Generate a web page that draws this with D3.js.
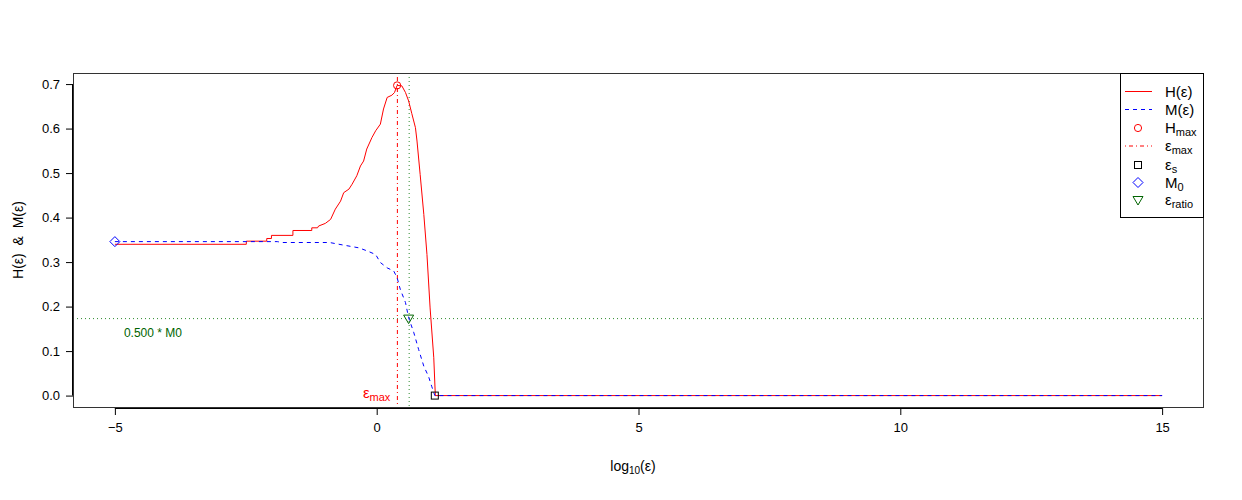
<!DOCTYPE html>
<html><head><meta charset="utf-8">
<script src="https://cdn.jsdelivr.net/npm/d3@7"></script>
<style>body{margin:0;background:#fff}svg{display:block;font-family:"Liberation Sans",Arial,sans-serif}</style>
</head><body><svg id="c" width="1242" height="500"></svg>
<script>
// ---- data (x = log10(eps)) ----
const hX = [-5.0,-2.49,-2.49,-2.10,-2.10,-2.01,-2.01,-1.60,-1.60,-1.24,-1.24,-1.13,-1.11,-0.98,-0.88,-0.79,-0.69,-0.63,-0.53,-0.47,-0.38,-0.31,-0.25,-0.19,-0.09,-0.02,0.07,0.13,0.20,0.29,0.34,0.39,0.48,0.55,0.61,0.67,0.74,0.77,0.83,0.90,0.96,1.02,1.09,1.12,15.0];
const hY = [0.340,0.340,0.347,0.347,0.353,0.353,0.360,0.360,0.371,0.371,0.377,0.377,0.381,0.387,0.396,0.419,0.437,0.456,0.464,0.475,0.494,0.516,0.527,0.554,0.580,0.595,0.610,0.644,0.670,0.675,0.681,0.697,0.696,0.681,0.662,0.634,0.602,0.572,0.497,0.407,0.317,0.197,0.085,0.000,0.000];
const mX = [-5.0,-1.90,-1.80,-0.90,-0.72,-0.34,-0.18,-0.02,0.07,0.20,0.325,0.39,0.45,0.55,0.61,0.71,0.80,0.90,0.99,1.05,1.11,15.0];
const mY = [0.346,0.346,0.344,0.344,0.340,0.332,0.325,0.317,0.299,0.287,0.280,0.265,0.239,0.209,0.175,0.141,0.104,0.066,0.043,0.021,0.000,0.000];
const hmax = {x:0.39, y:0.697};
const epsMax = 0.395;
const epsS = {x:1.11, y:0};
const M0 = {x:-5, y:0.346};
const ratio = 0.5;
const epsRatio = {x:0.61, y:0.173};
const epsRatioLine = 0.62;
const xTicks = [-5,0,5,10,15];
const yTicks = [0,0.1,0.2,0.3,0.4,0.5,0.6,0.7];
const legendLabels = [["H","(ε)",""],["M","(ε)",""],["H","","max"],["ε","","max"],["ε","","s"],["M","","0"],["ε","","ratio"]];

// ---- layout ----
const svg = d3.select("#c");
const L=73,R=1204,T=73,B=408;
const x = d3.scaleLinear().domain([-5.8,15.8]).range([L,R]);
const y = d3.scaleLinear().domain([-0.02788,0.72488]).range([B,T]);
const RED="#FF0000", BLUE="#0000FF", GREEN="#006400", LGREEN="#2E8B2E";

const g = svg.append("g");
svg.append("clipPath").attr("id","clip").append("rect").attr("x",L).attr("y",T).attr("width",R-L).attr("height",B-T);
const pg = g.append("g").attr("clip-path","url(#clip)");

// reference lines
pg.append("line").attr("x1",L).attr("x2",R).attr("y1",y(epsRatio.y)).attr("y2",y(epsRatio.y))
  .attr("stroke",LGREEN).attr("stroke-dasharray","1,3");
pg.append("line").attr("x1",x(epsRatioLine)).attr("x2",x(epsRatioLine)).attr("y1",T).attr("y2",B)
  .attr("stroke",LGREEN).attr("stroke-dasharray","1,3");
pg.append("line").attr("x1",x(epsMax)).attr("x2",x(epsMax)).attr("y1",T).attr("y2",B)
  .attr("stroke",RED).attr("stroke-dasharray","1,3,4,3");

const line = d3.line().x(d=>x(d[0])).y(d=>y(d[1]));
pg.append("path").attr("d",line(hX.map((v,i)=>[v,hY[i]]))).attr("fill","none").attr("stroke",RED).attr("stroke-width",1);
pg.append("path").attr("d",line(mX.map((v,i)=>[v,mY[i]]))).attr("fill","none").attr("stroke",BLUE).attr("stroke-width",1).attr("stroke-dasharray","4,4");

// markers
function circ(sel,cx,cy){sel.append("circle").attr("cx",cx).attr("cy",cy).attr("r",3.6).attr("fill","none").attr("stroke",RED);}
function sq(sel,cx,cy){sel.append("rect").attr("x",cx-3.5).attr("y",cy-3.5).attr("width",7).attr("height",7).attr("fill","none").attr("stroke","#000");}
function dia(sel,cx,cy){sel.append("path").attr("d",`M${cx},${cy-5}L${cx+5},${cy}L${cx},${cy+5}L${cx-5},${cy}Z`).attr("fill","none").attr("stroke",BLUE);}
function tri(sel,cx,cy){sel.append("path").attr("d",`M${cx-5},${cy-3.5}L${cx+5},${cy-3.5}L${cx},${cy+5}Z`).attr("fill","none").attr("stroke",GREEN);}
circ(g,x(hmax.x),y(hmax.y));
sq(g,x(epsS.x),y(epsS.y));
dia(g,x(M0.x),y(M0.y));
tri(g,x(epsRatio.x),y(epsRatio.y));

// annotations
g.append("text").attr("x",x(M0.x)+9).attr("y",y(epsRatio.y)+18).attr("fill",GREEN).attr("font-size",12)
  .text(ratio.toFixed(3)+" * M0");
const em = g.append("text").attr("x",x(epsMax)-7).attr("y",y(0)+2).attr("fill",RED).attr("font-size",15).attr("text-anchor","end");
em.append("tspan").text("ε");
em.append("tspan").attr("font-size",11).attr("dy",3).text("max");

// box
g.append("rect").attr("x",L+0.5).attr("y",T+0.5).attr("width",R-L-1).attr("height",B-T-1).attr("fill","none").attr("stroke","#333");

// axes
const xa = g.append("g").attr("transform",`translate(0,${B})`)
  .call(d3.axisBottom(x).tickValues(xTicks).tickSize(7).tickSizeOuter(0).tickFormat(d3.format("d")).tickPadding(8));
xa.select(".domain").attr("d",`M${x(-5)},0.5H${x(15)}`);
const ya = g.append("g").attr("transform",`translate(${L},0)`)
  .call(d3.axisLeft(y).tickValues(yTicks).tickSize(7).tickSizeOuter(0).tickFormat(d3.format(".1f")).tickPadding(6));
ya.select(".domain").attr("d",`M-0.5,${y(0)}V${y(0.7)}`);
[xa,ya].forEach(a=>{a.selectAll("text").attr("font-size",13).attr("font-family","Liberation Sans, Arial, sans-serif").attr("fill","#000");a.selectAll("line,path").attr("stroke","#000");});

// axis titles
const xt = g.append("text").attr("x",633).attr("y",471).attr("text-anchor","middle").attr("font-size",14);
xt.append("tspan").text("log");
xt.append("tspan").attr("font-size",10).attr("dy",3).text("10");
xt.append("tspan").attr("dy",-3).text("(ε)");
g.append("text").attr("transform","translate(23,240) rotate(-90)").attr("text-anchor","middle").attr("font-size",14)
  .attr("xml:space","preserve").text("H(ε)  &  M(ε)");

// legend
const lg = g.append("g");
lg.append("rect").attr("x",1120.5).attr("y",T+0.5).attr("width",R-1120-1).attr("height",144).attr("fill","#fff").attr("stroke","#000");
const ly = [91.5,109.5,128,146,165,182.5,200];
const lx1=1125, lx2=1152, lpx=1138, ltx=1165;
lg.append("path").attr("d",`M${lx1},${ly[0]}H${lx2}`).attr("stroke",RED).attr("fill","none");
lg.append("path").attr("d",`M${lx1},${ly[1]}H${lx2}`).attr("stroke",BLUE).attr("fill","none").attr("stroke-dasharray","4,4");
circ(lg,lpx,ly[2]);
lg.append("path").attr("d",`M${lx1},${ly[3]}H${lx2}`).attr("stroke",RED).attr("fill","none").attr("stroke-dasharray","1,3,4,3");
sq(lg,lpx,ly[4]); dia(lg,lpx,ly[5]); tri(lg,lpx,ly[6]);
legendLabels.forEach((lab,i)=>{
  const t = lg.append("text").attr("x",ltx).attr("y",ly[i]+5).attr("font-size",15);
  t.append("tspan").text(lab[0]);
  if(lab[1]) t.append("tspan").text(lab[1]);
  if(lab[2]) t.append("tspan").attr("font-size",11).attr("dy",3).text(lab[2]);
});
</script></body></html>
